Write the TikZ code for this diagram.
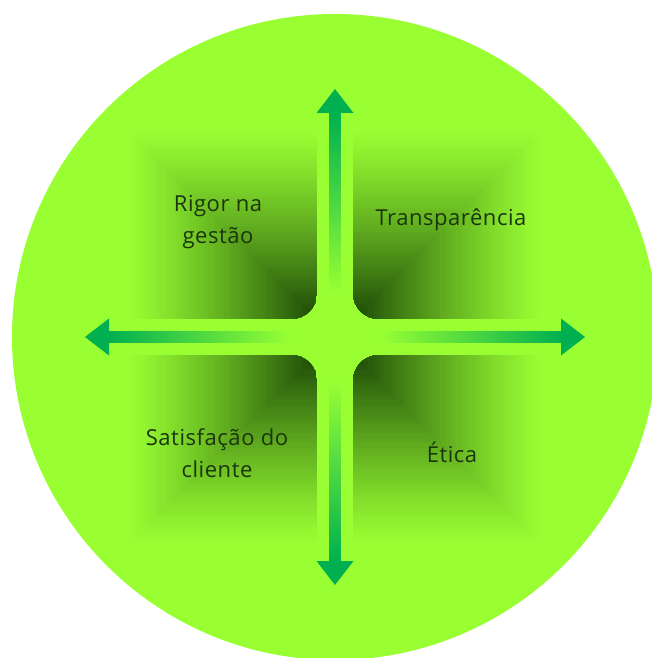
\documentclass[tikz,border=0pt]{standalone}
\usepackage{fontspec}
\setmainfont{Open Sans}[LetterSpace=2.5]
\usepackage{tikz}
\usetikzlibrary{calc}
\definecolor{cvlight}{HTML}{99FF33}
\definecolor{cvdark}{HTML}{1A4606}
\definecolor{cvarrow}{HTML}{00B050}
\definecolor{cvtext}{HTML}{1B350C}
\tikzset{
  lbl/.style   = {font=\fontsize{22}{32}\selectfont, text=cvtext,
                  align=center, inner sep=0pt},
  head/.style  = {fill=cvarrow},
  shaft/.style = {middle color=cvarrow!60!cvlight},
}
\begin{document}
\begin{tikzpicture}[x=1pt,y=-1pt]
  \clip (0,0) rectangle (652,658);
  \coordinate (c) at (335,337);
  \fill[cvlight] (c) circle[radius=323];
  % quadrants, darkest at the inner corner
  \foreach \sx/\sy in {1/1, -1/1, 1/-1, -1/-1}{
    \begin{scope}[shift={(c)}, xscale=\sx, yscale=\sy]
      \clip (-211,-211) -- (-18,-211) -- (-18,-44)
        .. controls (-18,-29.6) and (-29.6,-18) .. (-44,-18) -- (-211,-18) -- cycle;
      \foreach \i in {0,...,63}{
        \pgfmathsetmacro\side{193*(1-\i/64)}
        \pgfmathtruncatemacro\pct{100*(\i/64)^1.2}
        \fill[cvdark!\pct!cvlight] (-18,-18) rectangle ++(-\side,-\side);
      }
    \end{scope}
  }
  % the cross of arrows
  \coordinate (tn) at (335,89);
  \coordinate (ts) at (335,585);
  \coordinate (tw) at (85,337);
  \coordinate (te) at (585,337);
  \shade[shaft, top color=cvarrow, bottom color=cvlight]
    ($(c)+(-5.5,-44)$) rectangle ($(tn)+(5.5,24)$);
  \shade[shaft, bottom color=cvarrow, top color=cvlight]
    ($(c)+(-5.5,44)$) rectangle ($(ts)+(5.5,-24)$);
  \shade[shaft, left color=cvarrow, right color=cvlight]
    ($(c)+(-44,-5.5)$) rectangle ($(tw)+(24,5.5)$);
  \shade[shaft, right color=cvarrow, left color=cvlight]
    ($(c)+(44,-5.5)$) rectangle ($(te)+(-24,5.5)$);
  \fill[head] (tn) -- ++(-18.5,24) -- ++(37,0) -- cycle;
  \fill[head] (ts) -- ++(-18.5,-24) -- ++(37,0) -- cycle;
  \fill[head] (tw) -- ++(24,-18.5) -- ++(0,37) -- cycle;
  \fill[head] (te) -- ++(-24,-18.5) -- ++(0,37) -- cycle;
  \node[lbl] (rigor)  at (218,222) {Rigor na\\gestão};
  \node[lbl] (transp) at (451,220) {Transparência};
  \node[lbl] (satisf) at (217,453) {Satisfação do\\cliente};
  \node[lbl] (etica)  at (452,452) {Ética};
\end{tikzpicture}
\end{document}
